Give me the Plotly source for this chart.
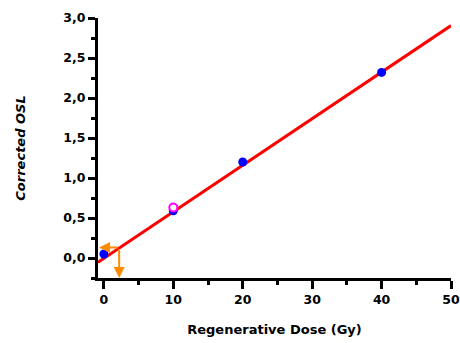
import plotly.graph_objects as go

# Data
dose = [0, 10, 20, 40]
osl = [0.05, 0.59, 1.20, 2.32]
recycle_dose = [10]
recycle_osl = [0.63]
fit_x = [-0.85, 50]
fit_slope = 0.0582
fit_intercept = -0.005
fit_y = [fit_intercept + fit_slope * x for x in fit_x]
natural_osl = 0.13
equiv_dose = 2.2
x_min, y_min = -0.85, -0.25

fig = go.Figure()
fig.add_trace(go.Scatter(x=fit_x, y=fit_y, mode="lines",
                         line=dict(color="#FF0000", width=3), showlegend=False))
fig.add_trace(go.Scatter(x=dose, y=osl, mode="markers",
                         marker=dict(color="#0000FF", size=9), showlegend=False))
fig.add_trace(go.Scatter(x=recycle_dose, y=recycle_osl, mode="markers",
                         marker=dict(color="white", size=8, line=dict(color="#FF00FF", width=2)),
                         showlegend=False))

orange = "#FF8C00"
fig.add_annotation(x=x_min + 0.15, y=natural_osl, ax=equiv_dose, ay=natural_osl,
                   xref="x", yref="y", axref="x", ayref="y", text="",
                   showarrow=True, arrowhead=2, arrowsize=1.1, arrowwidth=2, arrowcolor=orange)
fig.add_annotation(x=equiv_dose, y=y_min, ax=equiv_dose, ay=natural_osl,
                   xref="x", yref="y", axref="x", ayref="y", text="",
                   showarrow=True, arrowhead=2, arrowsize=1.1, arrowwidth=2, arrowcolor=orange)

font_fam = "DejaVu Sans, Liberation Sans, Arial, sans-serif"
tickfont = dict(family=font_fam, size=12.5, color="black")
fig.update_layout(
    width=460, height=343,
    margin=dict(l=98, r=9, t=18, b=65),
    paper_bgcolor="white", plot_bgcolor="white",
    separators=",.",
    font=dict(family=font_fam, color="black", size=13),
    xaxis=dict(range=[x_min, 50], dtick=10, tick0=0, showgrid=False, zeroline=False,
               automargin=False,
               showline=True, linecolor="black", linewidth=3,
               ticks="outside", ticklen=8, tickwidth=3, tickcolor="black",
               minor=dict(ticks="outside", ticklen=4, tickwidth=3, dtick=5, tick0=0, tickcolor="black"),
               tickprefix="<b>", ticksuffix="</b>", tickfont=tickfont,
               title=dict(text="<b>Regenerative Dose (Gy)</b>", standoff=19,
                          font=dict(family=font_fam, size=13, color="black"))),
    yaxis=dict(range=[y_min, 3.0], dtick=0.5, tick0=0, tickformat=".1f",
               showgrid=False, zeroline=False, automargin=False,
               showline=True, linecolor="black", linewidth=3,
               ticks="outside", ticklen=7, tickwidth=3, tickcolor="black",
               minor=dict(ticks="outside", ticklen=4, tickwidth=3, dtick=0.25, tick0=0, tickcolor="black"),
               tickprefix="<b>", ticksuffix="</b>", tickfont=tickfont,
               title=dict(text="<b><i>Corrected OSL</i></b>", standoff=35,
                          font=dict(family=font_fam, size=13, color="black"))),
)

fig.write_html("out.html", config={"displayModeBar": False},
               post_script="document.body.style.margin='0';document.body.style.overflow='hidden';")
